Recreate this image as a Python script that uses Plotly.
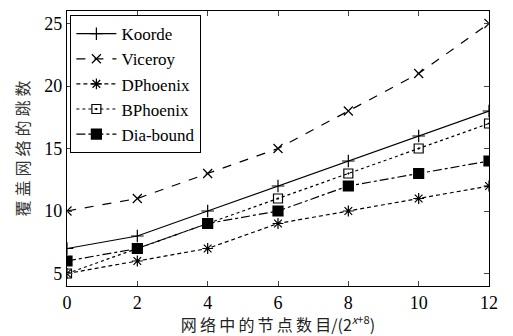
import plotly.graph_objects as go

# Network size exponent x (nodes = 2^(x+8))
x_vals = [0, 2, 4, 6, 8, 10, 12]

# Hop counts needed to cover the overlay network
koorde = [7, 8, 10, 12, 14, 16, 18]
viceroy = [10, 11, 13, 15, 18, 21, 25]
dphoenix = [5, 6, 7, 9, 10, 11, 12]
bphoenix = [5, 7, 9, 11, 13, 15, 17]
dia_bound = [6, 7, 9, 10, 12, 13, 14]

x_ticks = [0, 2, 4, 6, 8, 10, 12]
y_ticks = [5, 10, 15, 20, 25]

series = [
    ("Koorde", koorde, "solid", "cross-thin-open", 9),
    ("Viceroy", viceroy, "dash", "x-thin-open", 9),
    ("DPhoenix", dphoenix, "4px,3px", "asterisk-open", 9),
    ("BPhoenix", bphoenix, "dot", "square-open-dot", 9),
    ("Dia-bound", dia_bound, "dashdot", "square", 10),
]

fig = go.Figure()
for name, ys, dash, sym, size in series:
    fig.add_trace(go.Scatter(
        x=x_vals, y=ys, name=name, mode="lines+markers",
        line=dict(color="black", width=1.2, dash=dash),
        marker=dict(symbol=sym, size=size, color="black",
                    line=dict(color="black", width=1.2)),
    ))

serif = "Liberation Serif"
cjk = "Noto Sans CJK SC"
x_title = "\u2009".join("网络中的节点数目") + "/(2<sup><i>x</i>+8</sup>)"
y_title = "\u2005".join("覆盖网络的跳数")

fig.update_layout(
    width=513, height=336,
    margin=dict(l=67, r=24, t=10, b=49),
    paper_bgcolor="white", plot_bgcolor="white",
    font=dict(family=serif, size=18, color="black"),
    showlegend=True,
    legend=dict(
        x=0.008, y=0.985, xanchor="left", yanchor="top",
        bgcolor="white", bordercolor="black", borderwidth=1,
        font=dict(family=serif, size=17, color="black"),
        tracegroupgap=0, itemwidth=40,
    ),
)
fig.update_xaxes(
    range=[0, 12], tickvals=x_ticks, ticks="inside", ticklen=5,
    showline=True, linecolor="black", linewidth=1.2, mirror="ticks",
    showgrid=False, zeroline=False,
    tickfont=dict(family=serif, size=18),
    title=dict(text=x_title, font=dict(family=cjk, size=16, color="#222"), standoff=2),
)
fig.update_yaxes(
    range=[4, 26], tickvals=y_ticks, ticks="inside", ticklen=5,
    showline=True, linecolor="black", linewidth=1.2, mirror="ticks",
    showgrid=False, zeroline=False,
    tickfont=dict(family=serif, size=18),
    title=dict(text=y_title, font=dict(family=cjk, size=16, color="#333"), standoff=10),
)

fig.write_html("out.html")
